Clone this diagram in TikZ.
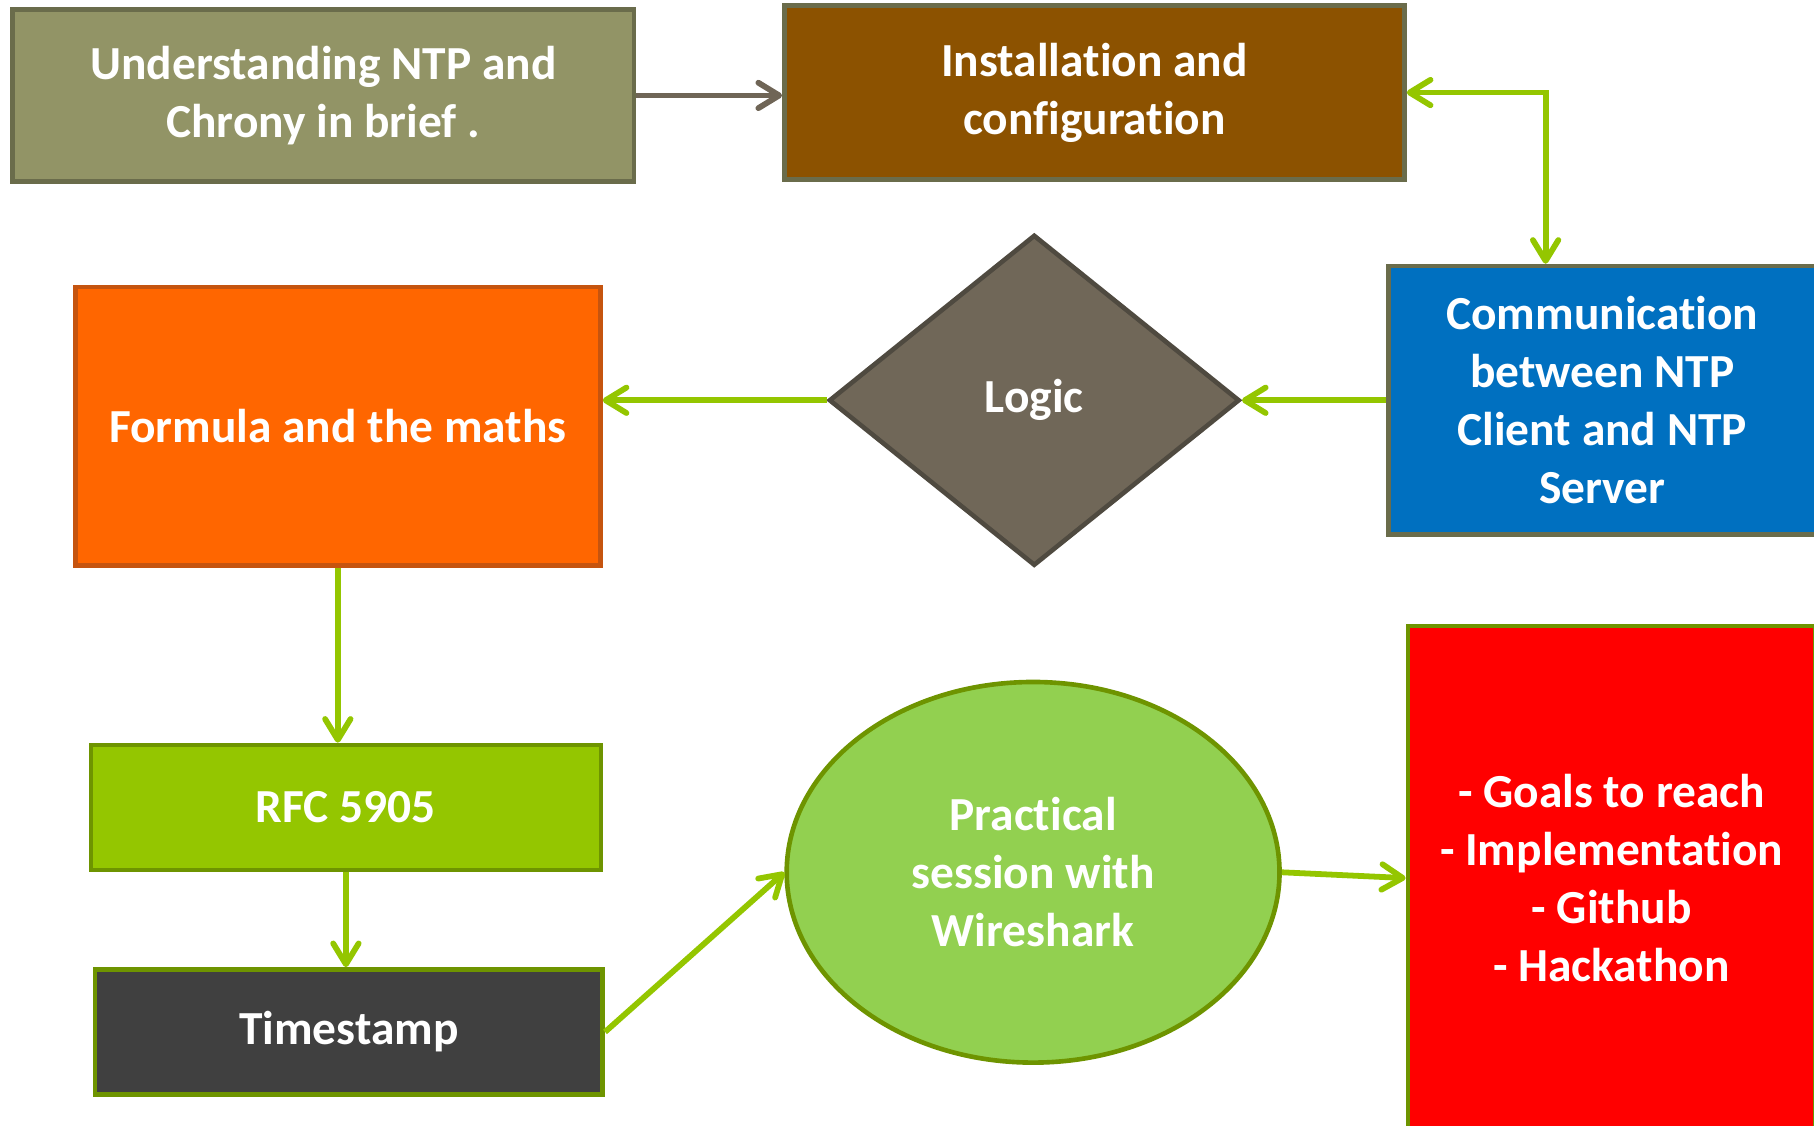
\documentclass[tikz,border=0pt]{standalone}
\usepackage{fontspec}
\setmainfont{Carlito}[Ligatures={NoCommon,NoContextual}]
\newcommand\brk{\kern0pt }
\usetikzlibrary{arrows.meta,shapes.geometric}
\definecolor{olivefill}{HTML}{929466}
\definecolor{oliveline}{HTML}{6A6C4B}
\definecolor{brownfill}{HTML}{8C5200}
\definecolor{bluefill}{HTML}{0070C0}
\definecolor{diamondfill}{HTML}{706758}
\definecolor{diamondline}{HTML}{4F4A40}
\definecolor{orangefill}{HTML}{FF6600}
\definecolor{orangeline}{HTML}{C5540F}
\definecolor{limefill}{HTML}{94C600}
\definecolor{greenline}{HTML}{6E9400}
\definecolor{darkfill}{HTML}{404040}
\definecolor{lightgreen}{HTML}{92D050}
\definecolor{redfill}{HTML}{FF0000}
\definecolor{arrowgreen}{HTML}{94C600}
\definecolor{arrowgray}{HTML}{6F6556}
\begin{document}
\begin{tikzpicture}[x=1pt,y=-1pt,
  lbl/.style={text=white, font=\bfseries\fontsize{41}{50}\selectfont, align=center, inner sep=0pt},
  box/.style={rectangle, lbl, line width=4pt},
  garrow/.style={draw=arrowgreen, line width=5pt, -{Straight Barb[length=18pt,width=22pt,round]}},
  darrow/.style={draw=arrowgreen, line width=5pt, {Straight Barb[length=18pt,width=22pt,round]}-{Straight Barb[length=18pt,width=22pt,round]}},
  grarrow/.style={draw=arrowgray, line width=5pt, -{Straight Barb[length=18pt,width=22pt,round]}}
]
\useasboundingbox (0,0) rectangle (1568,973);
\clip (0,0) rectangle (1568,973);

\node[box, fill=olivefill, draw=oliveline, minimum width=537pt, minimum height=149pt] (und) at (279.5,82.5) {Understanding NTP and\\Chrony in brief .};
\node[box, fill=brownfill, draw=oliveline, minimum width=536pt, minimum height=150pt] (inst) at (946,80) {Installat\brk ion and\\conf\brk igurat\brk ion};
\node[box, fill=bluefill, draw=oliveline, minimum width=370pt, minimum height=232pt] (comm) at (1385,346) {Communicat\brk ion\\between NTP\\Client and NTP\\Server};
\node[diamond, lbl, fill=diamondfill, draw=diamondline, line width=4pt, minimum width=355pt, minimum height=286pt] (logic) at (894,346) {Logic};
\node[box, fill=orangefill, draw=orangeline, minimum width=454pt, minimum height=241pt] (formula) at (292,368.5) {Formula and the maths};
\node[box, fill=limefill, draw=greenline, minimum width=441pt, minimum height=108pt] (rfc) at (299,698) {RFC 5905};
\node[box, fill=darkfill, draw=greenline, minimum width=439pt, minimum height=108pt] (ts) at (301.5,892) {Timestamp};
\node[ellipse, lbl, fill=lightgreen, draw=greenline, line width=4pt, minimum width=426pt, minimum height=329pt] (prac) at (893,754) {Pract\brk ical\\session with\\Wireshark};
\node[box, fill=redfill, draw=greenline, minimum width=352pt, minimum height=436pt] (goals) at (1393,759) {- Goals to reach\\- Implementat\brk ion\\- Github\\- Hackathon};

\coordinate (corner) at (1336,80);
\draw[grarrow] (und.east) -- (und.east -| inst.west);
\draw[darrow] (inst.east |- corner) -- (corner) -- (corner |- comm.north);
\draw[garrow] (comm.west) -- (logic.east);
\draw[garrow] (logic.west) -- (logic.west -| formula.east);
\draw[garrow] (formula.south) -- (formula.south |- rfc.north);
\draw[garrow] (rfc.south) -- (rfc.south |- ts.north);
\draw[garrow] (ts.east) -- (prac.west);
\draw[garrow] (prac.east) -- (goals.west);
\end{tikzpicture}
\end{document}
